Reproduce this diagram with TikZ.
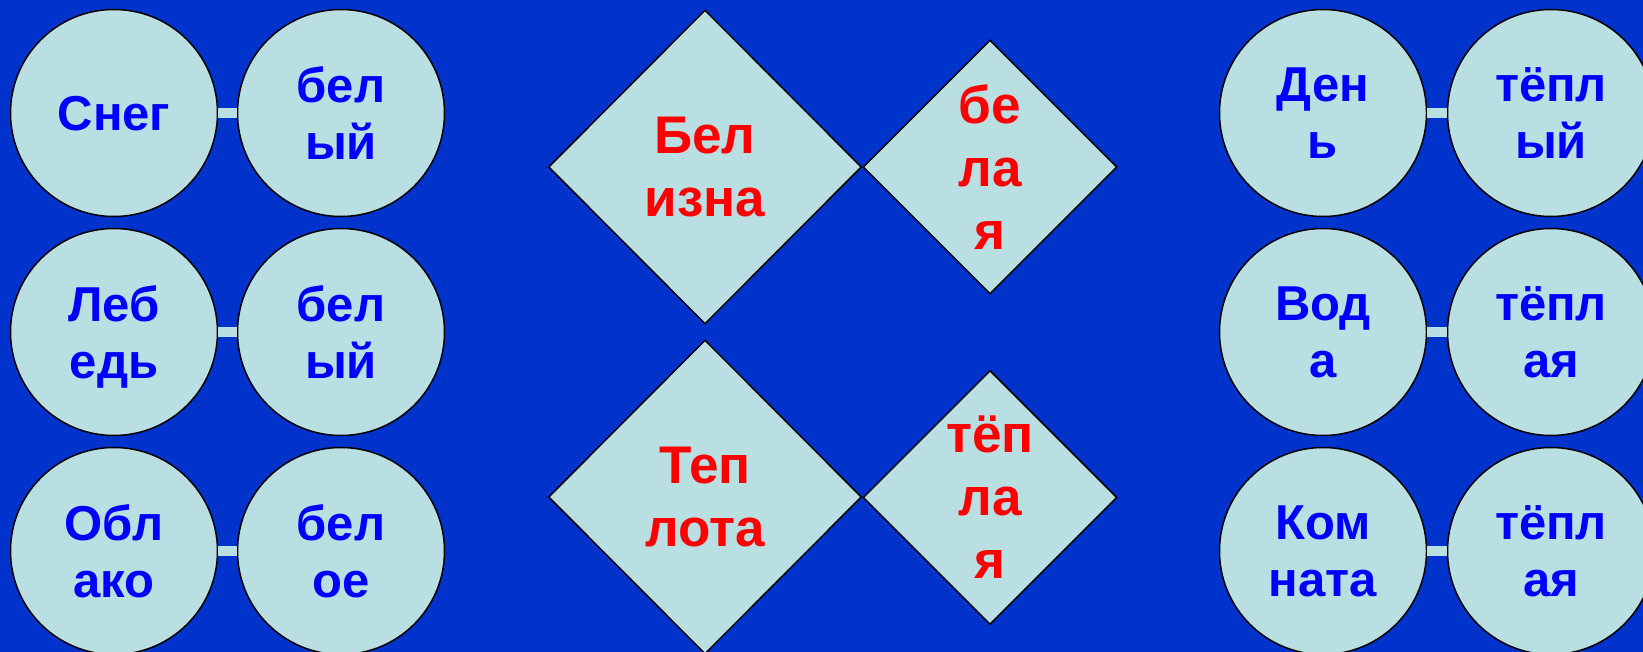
\documentclass[tikz,border=0pt]{standalone}
\usepackage{fontspec}
\setmainfont{Liberation Sans}
\newfontfamily\boldword{Liberation Sans}[UprightFont={* Bold}]
\usetikzlibrary{shapes.geometric}
\definecolor{bg}{RGB}{0,51,204}
\definecolor{cell}{RGB}{185,223,226}
\definecolor{wordblue}{RGB}{0,0,255}
\definecolor{wordred}{RGB}{255,0,0}
\begin{document}
\begin{tikzpicture}[x=1pt,y=-1pt,
 word/.style={circle, draw=black, line width=1.5pt, fill=cell, minimum size=207pt, inner sep=0pt, align=center, text depth=0pt, text=wordblue, font=\boldword\fontsize{49}{57}\selectfont},
 link/.style={draw=cell, line width=10pt},
 rhomb/.style={diamond, draw=black, line width=1.5pt, fill=cell, inner sep=0pt},
 rtext/.style={align=center, text=wordred, font=\boldword\fontsize{53}{63}\selectfont, inner sep=0pt}]
\fill[bg] (0,0) rectangle (1643,652);
\useasboundingbox (0,0) rectangle (1643,652);

% left circles
\node[word] (l11) at (114,113) {Снег};
\node[word] (l12) at (341,113) {бел\\ый};
\node[word] (l21) at (114,332) {Леб\\едь};
\node[word] (l22) at (341,332) {бел\\ый};
\node[word] (l31) at (114,551) {Обл\\ако};
\node[word] (l32) at (341,551) {бел\\ое};
\draw[link] (l11.east) -- (l12.west);
\draw[link] (l21.east) -- (l22.west);
\draw[link] (l31.east) -- (l32.west);

% right circles
\node[word] (r11) at (1323,113) {Ден\\ь};
\node[word] (r12) at (1551,113) {тёпл\\ый};
\node[word] (r21) at (1323,332) {Вод\\а};
\node[word] (r22) at (1551,332) {тёпл\\ая};
\node[word] (r31) at (1323,551) {Ком\\ната};
\node[word] (r32) at (1551,551) {тёпл\\ая};
\draw[link] (r11.east) -- (r12.west);
\draw[link] (r21.east) -- (r22.west);
\draw[link] (r31.east) -- (r32.west);

% diamonds
\node[rhomb, minimum width=313pt, minimum height=314pt] (d1) at (705,167) {};
\node[rhomb, minimum width=254pt, minimum height=254pt] (d2) at (990,167) {};
\node[rhomb, minimum width=313pt, minimum height=314pt] (d3) at (705,497) {};
\node[rhomb, minimum width=254pt, minimum height=254pt] (d4) at (990,497.5) {};
\node[rtext] (t1) at (d1.center) {Бел\\изна};
\node[rtext] (t2) at (d2.center) {бе\\ла\\я};
\node[rtext] (t3) at (d3.center) {Теп\\лота};
\node[rtext] (t4) at (d4.center) {тёп\\ла\\я};
\end{tikzpicture}
\end{document}
